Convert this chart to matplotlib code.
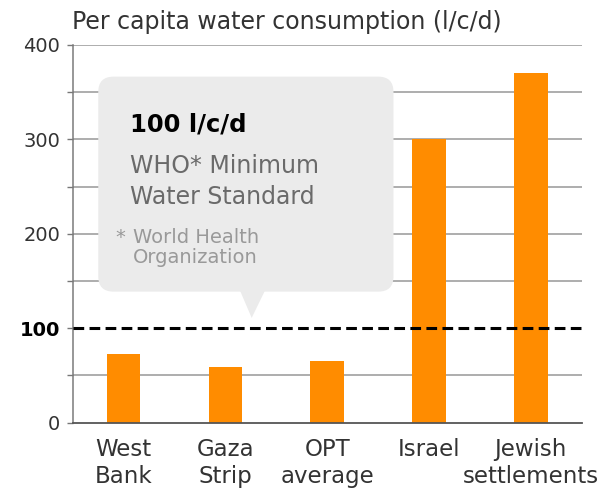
import matplotlib
matplotlib.use("Agg")
import matplotlib.pyplot as plt
from matplotlib.patches import FancyBboxPatch, Polygon

# data (litres / capita / day)
categories = ["West\nBank", "Gaza\nStrip", "OPT\naverage", "Israel", "Jewish\nsettlements"]
consumption = [73, 59, 65, 300, 370]
who_minimum = 100
ytick_values = [0, 50, 100, 150, 200, 250, 300, 350, 400]
ytick_labels = ["0", "", "100", "", "200", "", "300", "", "400"]

orange = "#ff8c00"
grid_grey = "#a0a0a0"
text_dark = "#333333"

fig = plt.figure(figsize=(6.02, 4.88), dpi=100)
ax = fig.add_axes([0.1208, 0.1338, 0.8455, 0.774])

x = list(range(len(categories)))
ax.bar(x, consumption, width=0.33, color=orange, zorder=3)

ax.set_xlim(-0.5, len(categories) - 0.5)
ax.set_ylim(0, 400)

# grid every 50
for v in ytick_values[1:]:
    if v != who_minimum:
        ax.axhline(v, color=grid_grey, lw=1.2, zorder=1)

ax.set_yticks(ytick_values)
ax.set_yticklabels(ytick_labels)
ax.tick_params(axis="y", length=4.5, width=1.0, color="#777777", pad=4.5,
               labelsize=14, labelcolor=text_dark)
for lbl in ax.get_yticklabels():
    if lbl.get_text() == str(who_minimum):
        lbl.set_fontweight("bold")
        lbl.set_color("black")

ax.set_xticks(x)
ax.set_xticklabels(categories, fontsize=16.5, color=text_dark, linespacing=1.22)
ax.tick_params(axis="x", length=0, pad=11)

for s in ["top", "right"]:
    ax.spines[s].set_visible(False)
ax.spines["left"].set_color("#7a7a7a")
ax.spines["left"].set_linewidth(1.1)
ax.spines["bottom"].set_color("#555555")
ax.spines["bottom"].set_linewidth(1.3)
ax.spines["bottom"].set_zorder(4)

# WHO minimum dashed line
ax.axhline(who_minimum, color="black", lw=2.2, dashes=(3.5, 1.75), zorder=5)

# callout box
box_fc = "#ebebeb"
aspect = (400 / 377.7) / (1 / 101.8)
box = FancyBboxPatch((-0.249, 138.8), 2.9, 227.7,
                     boxstyle="round,pad=0,rounding_size=0.15",
                     mutation_aspect=aspect, fc=box_fc, ec="none", zorder=6)
ax.add_patch(box)
ax.add_patch(Polygon([(1.143, 140), (1.389, 140), (1.258, who_minimum + 11)],
                     closed=True, fc=box_fc, ec="none", zorder=6))

ax.text(0.063, 308, "100 l/c/d", fontsize=17.5, fontweight="bold", color="black",
        va="baseline", zorder=7)
ax.text(0.063, 264.8, "WHO* Minimum", fontsize=17, color="#6a6a6a",
        va="baseline", zorder=7)
ax.text(0.063, 231.4, "Water Standard", fontsize=17, color="#6a6a6a",
        va="baseline", zorder=7)
ax.text(-0.084, 190.7, "*", fontsize=14, color="#999999", va="baseline", zorder=7)
ax.text(0.092, 190.7, "World Health", fontsize=14, color="#999999",
        va="baseline", zorder=7)
ax.text(0.092, 169.2, "Organization", fontsize=14, color="#999999",
        va="baseline", zorder=7)

fig.text(71.7 / 602, 1 - 28.5 / 488, "Per capita water consumption (l/c/d)",
         fontsize=17, color=text_dark, va="baseline", ha="left")

fig.savefig("out.png", dpi=100)
